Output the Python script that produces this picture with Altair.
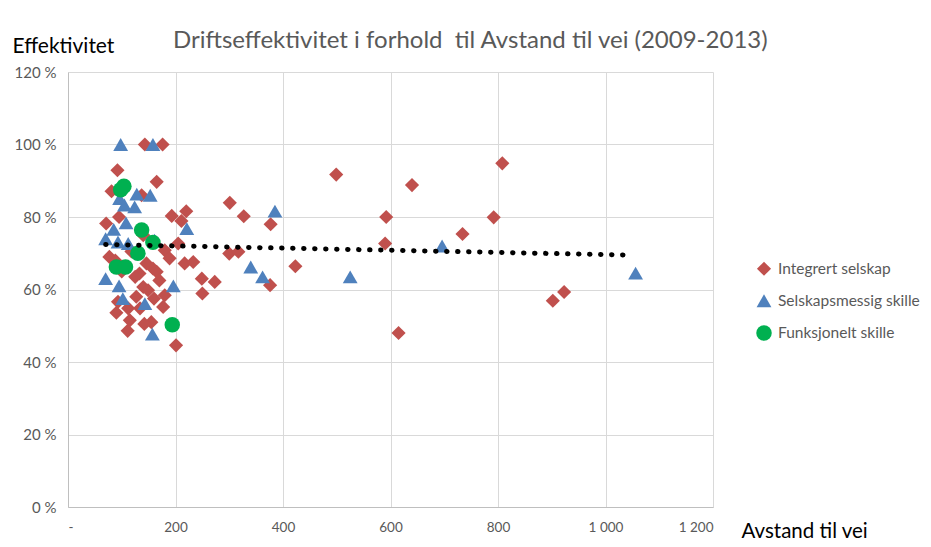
import altair as alt
import pandas as pd

categories = ["Integrert selskap", "Selskapsmessig skille", "Funksjonelt skille"]
title_text = ["Driftseffektivitet i forhold \u00a0til Avstand til vei (2009-2013)"]

# Integrert selskap (diamonds)
int_x = [499, 640, 301, 327, 377, 592, 590, 423, 376, 300, 317, 273, 249, 250,
         808, 792, 734, 923, 902, 615,
         143, 176, 92, 81, 165, 137, 71, 95, 193, 220, 211, 205, 180, 189, 217,
         233, 165, 180, 177, 201, 155, 77, 133, 140, 127, 93, 90, 115, 111, 142,
         134, 112, 149, 158, 146, 140, 125, 160, 170, 100, 118, 88]
int_y = [91.7, 88.8, 83.9, 80.2, 78.0, 80.0, 72.7, 66.4, 61.2, 69.9, 70.4, 62.1, 63.0, 58.9,
         94.8, 79.9, 75.3, 59.3, 56.9, 48.0,
         100.0, 100.0, 92.9, 87.1, 89.7, 86.0, 78.2, 80.0, 80.3, 81.6, 78.9, 72.7, 70.8, 68.6, 67.2,
         67.6, 64.9, 58.4, 55.2, 44.6, 51.0, 69.0, 64.4, 60.7, 58.0, 56.6, 53.6, 51.5, 48.6, 50.5,
         54.8, 54.8, 59.8, 65.8, 67.2, 75.0, 63.5, 57.5, 62.5, 65.0, 70.5, 68.0]

# Selskapsmessig skille (triangles)
sel_x = [98, 158, 128, 153, 96, 124, 105, 108, 85, 161, 70, 221, 93, 112, 70, 95,
         102, 143, 157, 196, 340, 362, 385, 525, 696, 1056]
sel_y = [100.0, 100.0, 86.3, 86.0, 85.1, 82.8, 83.3, 78.4, 76.6, 73.6, 74.0, 76.8, 73.1, 72.7, 63.0, 61.0,
         57.5, 56.1, 47.7, 61.0, 66.2, 63.5, 81.6, 63.5, 72.0, 64.5]

# Funksjonelt skille (circles)
fun_x = [98, 104, 137, 158, 130, 90, 107, 194]
fun_y = [87.5, 88.5, 76.4, 73.0, 70.0, 66.2, 66.2, 50.3]

# Trend line
trend_x = [70, 1046]
trend_y = [72.4, 69.5]

x_ticks = [0, 200, 400, 600, 800, 1000, 1200]
y_ticks = [0, 20, 40, 60, 80, 100, 120]

df = pd.concat([
    pd.DataFrame({"x": int_x, "y": int_y, "kat": categories[0], "ord": 0}),
    pd.DataFrame({"x": sel_x, "y": sel_y, "kat": categories[1], "ord": 1}),
    pd.DataFrame({"x": fun_x, "y": fun_y, "kat": categories[2], "ord": 2}),
], ignore_index=True)
trend = pd.DataFrame({"x": trend_x, "y": trend_y})

FONT = "Lato"
x_scale = alt.Scale(domain=[0, 1200], nice=False, zero=False)
y_scale = alt.Scale(domain=[0, 120], nice=False)

x_axis = alt.Axis(
    values=x_ticks, grid=True, gridColor="#D9D9D9", domainColor="#BFBFBF", ticks=False,
    labelExpr="datum.value == 0 ? '-' : replace(format(datum.value, ','), ',', ' ')",
    labelFont=FONT, labelFontSize=13.5, labelColor="#595959", labelPadding=13,
    title="Avstand til vei", titleFont=FONT, titleFontSize=20.5, titleFontWeight="normal",
    titleColor="#000000", titleAngle=0, titleAlign="left", titleBaseline="alphabetic",
    titleX=673, titleY=30,
)
y_axis = alt.Axis(
    values=y_ticks, grid=True, gridColor="#D9D9D9", domainColor="#BFBFBF", ticks=False,
    labelExpr="datum.value + '\u00a0%'",
    labelFont=FONT, labelFontSize=15, labelColor="#595959", labelPadding=12,
    title="Effektivitet", titleFont=FONT, titleFontSize=21, titleFontWeight="normal",
    titleColor="#000000", titleAngle=0, titleAlign="left", titleBaseline="alphabetic",
    titleX=-56, titleY=-20,
)

leg = alt.Legend(title=None, orient="none", legendX=688, legendY=189,
                 labelFont=FONT, labelFontSize=15.5, labelColor="#595959",
                 symbolSize=100, rowPadding=15, labelOffset=6,
                 symbolStrokeWidth=0, padding=0)

points = alt.Chart(df).mark_point(filled=True, opacity=1, strokeWidth=0).encode(
    x=alt.X("x:Q", scale=x_scale, axis=x_axis),
    y=alt.Y("y:Q", scale=y_scale, axis=y_axis),
    color=alt.Color("kat:N", scale=alt.Scale(domain=categories,
                    range=["#C0504D", "#4F81BD", "#00B050"]), legend=leg),
    shape=alt.Shape("kat:N", scale=alt.Scale(domain=categories,
                    range=["diamond", "triangle-up", "circle"]), legend=leg),
    size=alt.Size("kat:N", scale=alt.Scale(domain=categories, range=[200, 240, 220]), legend=None),
    order=alt.Order("ord:Q"),
)

line = alt.Chart(trend).mark_line(color="black", strokeWidth=5, strokeDash=[0.5, 10.5],
                                  strokeCap="round").encode(
    x=alt.X("x:Q", scale=x_scale),
    y=alt.Y("y:Q", scale=y_scale),
)

title = alt.Chart(pd.DataFrame({"t": title_text})).mark_text(
    align="left", baseline="alphabetic", font=FONT, fontSize=24, color="#595959"
).encode(text="t:N", x=alt.value(105), y=alt.value(-24))

chart = alt.layer(points, line, title).properties(
    width=645, height=435,
    autosize=alt.AutoSizeParams(type="none"),
    padding={"left": 60, "top": 64, "right": 210, "bottom": 38},
).configure_view(stroke=None)

chart.save("out.html", embed_options={"renderer": "svg", "actions": False})
